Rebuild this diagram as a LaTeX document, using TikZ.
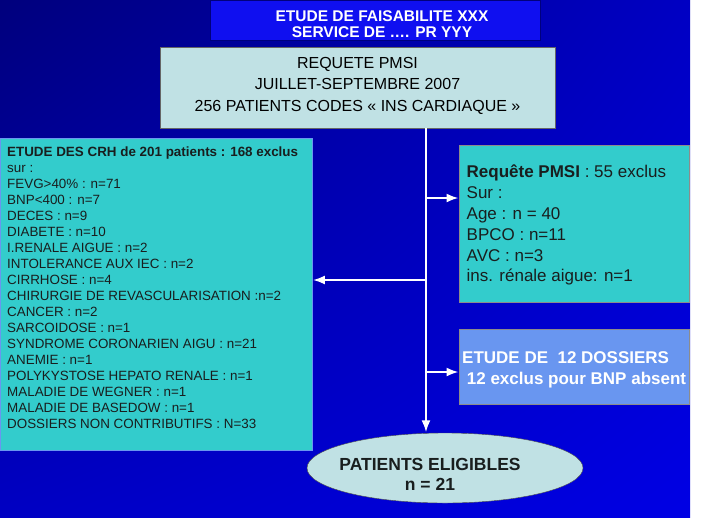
\documentclass[tikz,border=0pt]{standalone}
\usepackage{fontspec}
\setmainfont{Liberation Sans}
\usetikzlibrary{arrows.meta,positioning,shapes.geometric,shadings}
\definecolor{nightblue}{RGB}{0,0,125}
\definecolor{midblue}{RGB}{0,0,195}
\definecolor{royalblue}{RGB}{0,0,228}
\definecolor{titleblue}{RGB}{15,15,240}
\definecolor{paleaqua}{RGB}{192,225,228}
\definecolor{turquoise}{RGB}{51,204,204}
\definecolor{skyblue}{RGB}{105,150,240}
\definecolor{inkgrey}{RGB}{25,30,30}

\begin{document}
\begin{tikzpicture}[>=Latex, x=1pt, y=-1pt,
    panel/.style={inner sep=0pt, anchor=north west},
    lines/.style={inner sep=0pt, anchor=north west, align=left},
    link/.style={->, white, line width=2pt, shorten >=0.5pt}]
  % page and background
  \fill[white] (0,0) rectangle (704,517);
  \useasboundingbox (0,0) rectangle (704,517);
  \shade[upper left=nightblue, upper right=midblue,
         lower left=midblue, lower right=royalblue] (0,0) rectangle (690,517);

  % boxes
  \node[panel, fill=titleblue, draw=nightblue, minimum width=330pt, minimum height=40pt] (title) at (210,0) {};
  \node[panel, fill=paleaqua, draw=black!60, minimum width=395pt, minimum height=81pt] (req) at (160,47) {};
  \node[panel, fill=turquoise, draw=skyblue, minimum width=312pt, minimum height=312pt] (crh) at (0,138) {};
  \node[panel, fill=turquoise, draw=black!45, minimum width=230pt, minimum height=157pt] (crit) at (459,145) {};
  \node[panel, fill=skyblue, draw=black!45, minimum width=230pt, minimum height=75pt] (dos) at (459,329) {};
  \node[ellipse, fill=paleaqua, draw=black!70, inner sep=0pt,
        minimum width=276pt, minimum height=70pt] (elig) at (445,468) {};

  % texts
  \node[inner sep=0pt, anchor=north, align=center, text=white,
        font=\fontsize{15.5}{16}\selectfont\bfseries] (titletext) at (382,9.8)
    {\strut ETUDE DE FAISABILITE XXX\\ SERVICE DE …. PR YYY};
  \node[inner sep=0pt, anchor=north, align=center,
        font=\fontsize{16}{21.5}\selectfont] (reqtext) at (357.5,53)
    {\strut REQUETE PMSI\\ JUILLET-SEPTEMBRE 2007\\ 256 PATIENTS CODES « INS CARDIAQUE »};
  \node[lines, text=inkgrey, font=\fontsize{13.4}{16}\selectfont] (crhtext) at (7,144.8)
    {\strut\textbf{ETUDE DES CRH de 201 patients : 168 exclus}\\
     sur :\\
     FEVG>40\% : n=71\\
     BNP<400 : n=7\\
     DECES : n=9\\
     DIABETE : n=10\\
     I.RENALE AIGUE : n=2\\
     INTOLERANCE AUX IEC : n=2\\
     CIRRHOSE : n=4\\
     CHIRURGIE DE REVASCULARISATION :n=2\\
     CANCER : n=2\\
     SARCOIDOSE : n=1\\
     SYNDROME CORONARIEN AIGU : n=21\\
     ANEMIE : n=1\\
     POLYKYSTOSE HEPATO RENALE : n=1\\
     MALADIE DE WEGNER : n=1\\
     MALADIE DE BASEDOW : n=1\\
     DOSSIERS NON CONTRIBUTIFS : N=33};
  \node[lines, text=inkgrey, font=\fontsize{17}{20.8}\selectfont] (crittext) at (466.5,163.1)
    {\strut\textbf{Requête PMSI} : 55 exclus\\
     Sur :\\
     Age : n = 40\\
     BPCO : n=11\\
     AVC : n=3\\
     ins. rénale aigue: n=1};
  \node[lines, text=white, font=\fontsize{17}{21}\selectfont\bfseries] (dostext) at (462,348.3)
    {\strut ETUDE DE \ 12 DOSSIERS\\
     \ 12 exclus pour BNP absent};
  \node[inner sep=0pt, anchor=north, align=center, text=inkgrey,
        font=\fontsize{17.5}{20.5}\selectfont\bfseries] (eligtext) at (430,455.5)
    {\strut PATIENTS ELIGIBLES\\ n = 21};

  % connectors
  \coordinate (trunk) at (426,0);
  \coordinate (tocrit) at (426,198);
  \coordinate (tocrh) at (426,280);
  \coordinate (todos) at (426,372);
  \draw[link] (trunk |- req.south) -- (trunk |- elig.north);
  \draw[link] (tocrit) -- (tocrit -| crit.west);
  \draw[link] (tocrh) -- (tocrh -| crh.east);
  \draw[link] (todos) -- (todos -| dos.west);
\end{tikzpicture}
\end{document}
